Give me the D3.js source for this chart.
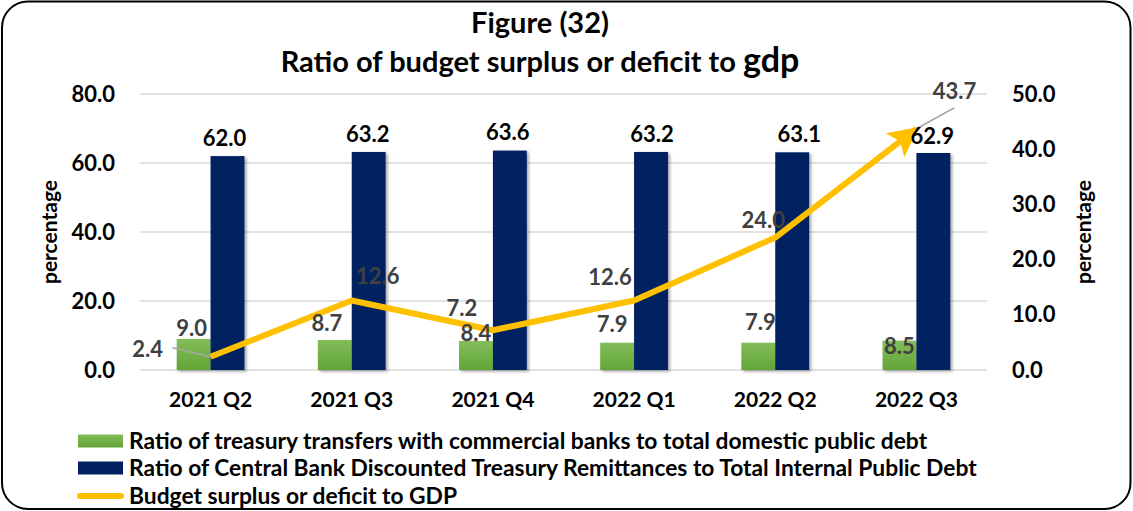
<!DOCTYPE html>
<html>
<head>
<meta charset="utf-8">
<script src="https://cdn.jsdelivr.net/npm/d3@7"></script>
<style>
  body { margin: 0; background: #fff; }
  svg { display: block; }
  text { font-family: Lato, "Open Sans", sans-serif; font-weight: 700; }
</style>
</head>
<body>
<svg id="chart" width="1133" height="511"></svg>
<script>
// ---- data ----
const categories = ["2021 Q2", "2021 Q3", "2021 Q4", "2022 Q1", "2022 Q2", "2022 Q3"];
const treasuryCommercial = [9.0, 8.7, 8.4, 7.9, 7.9, 8.5];
const centralBankDiscounted = [62.0, 63.2, 63.6, 63.2, 63.1, 62.9];
const budgetToGdp = [2.4, 12.6, 7.2, 12.6, 24.0, 43.7];
const leftTicks = [0, 20, 40, 60, 80];
const rightTicks = [0, 10, 20, 30, 40, 50];
const seriesNames = [
  "Ratio of treasury transfers with commercial banks to total domestic public debt",
  "Ratio of Central Bank Discounted Treasury Remittances to Total Internal Public Debt",
  "Budget surplus or deficit to GDP"
];

// label nudges [dx, dy] relative to each mark's anchor
const greenNudge = [[-2, -11], [-8, -17], [0, -8], [-5, -18], [2, -20], [0, 6]];
const navyNudge = [[-3, -18], [-1, -18], [-2, -18], [1, -18], [7, -18], [-1, -17]];
const lineNudge = [[-63, -7], [26, -24], [-31, -22], [-24, -23], [-12, -17], [38, -37]];

const svg = d3.select("#chart");
const W = 1133, H = 511;
const plot = { left: 140, right: 987, top: 94, bottom: 370 };
const labelSize = 22;

// frame
svg.append("rect")
  .attr("x", 2).attr("y", 1.5).attr("width", W - 4.5).attr("height", H - 3.5)
  .attr("rx", 26).attr("ry", 26)
  .attr("fill", "#fff").attr("stroke", "#000").attr("stroke-width", 2);

const defs = svg.append("defs");
const grad = defs.append("linearGradient").attr("id", "greenFill")
  .attr("x1", 0).attr("y1", 0).attr("x2", 0).attr("y2", 1);
grad.append("stop").attr("offset", "0%").attr("stop-color", "#82bd5a");
grad.append("stop").attr("offset", "100%").attr("stop-color", "#63a537");

const shadow = defs.append("filter").attr("id", "barShadow")
  .attr("x", "-30%").attr("y", "-10%").attr("width", "160%").attr("height", "130%");
shadow.append("feDropShadow").attr("dx", 2).attr("dy", 1.5)
  .attr("stdDeviation", 1.8).attr("flood-color", "#000").attr("flood-opacity", 0.35);

defs.append("marker").attr("id", "arrowHead")
  .attr("viewBox", "0 0 10 10").attr("refX", 9).attr("refY", 5)
  .attr("markerUnits", "userSpaceOnUse")
  .attr("markerWidth", 30).attr("markerHeight", 30)
  .attr("orient", "auto")
  .append("path").attr("d", "M0,0 L10,5 L0,10 L2.2,5 Z").attr("fill", "#ffc000");

// scales
const x = d3.scaleBand().domain(categories).range([plot.left, plot.right]).padding(0);
const yL = d3.scaleLinear().domain([0, 80]).range([plot.bottom, plot.top]);
const yR = d3.scaleLinear().domain([0, 50]).range([plot.bottom, plot.top]);
const barW = x.bandwidth() * 0.24;
const cx = c => x(c) + x.bandwidth() / 2;

// title
const title = svg.append("text").attr("text-anchor", "middle").attr("fill", "#000");
title.append("tspan").attr("x", 540).attr("y", 33).attr("font-size", 29).text("Figure (32)");
const t2 = title.append("tspan").attr("x", 540).attr("y", 72).attr("font-size", 29);
t2.append("tspan").text("Ratio of budget surplus or deficit to ");
t2.append("tspan").attr("font-size", 34).text("gdp");

// gridlines
svg.append("g").selectAll("line").data(leftTicks).join("line")
  .attr("x1", plot.left).attr("x2", plot.right)
  .attr("y1", d => yL(d)).attr("y2", d => yL(d))
  .attr("stroke", "#d9d9d9").attr("stroke-width", 1.5);

// axes
const axisL = svg.append("g").attr("transform", `translate(${plot.left - 22},0)`)
  .call(d3.axisLeft(yL).tickValues(leftTicks).tickFormat(d3.format(".1f")).tickSize(0));
const axisR = svg.append("g").attr("transform", `translate(${plot.right + 22},0)`)
  .call(d3.axisRight(yR).tickValues(rightTicks).tickFormat(d3.format(".1f")).tickSize(0));
const axisX = svg.append("g").attr("transform", `translate(0,${plot.bottom + 21})`)
  .call(d3.axisBottom(x).tickSize(0));
[axisL, axisR, axisX].forEach(a => {
  a.select(".domain").remove();
  a.selectAll("text").attr("font-size", labelSize).attr("fill", "#000")
    .attr("font-family", "Lato, 'Open Sans', sans-serif").attr("font-weight", 700);
});
axisX.selectAll("text").attr("font-size", 21).attr("dy", "0.75em").attr("y", 0);

// axis titles
svg.append("text").attr("transform", "translate(57,232) rotate(-90)")
  .attr("text-anchor", "middle").attr("font-size", 21).attr("fill", "#000").text("percentage");
svg.append("text").attr("transform", "translate(1091,232) rotate(-90)")
  .attr("text-anchor", "middle").attr("font-size", 21).attr("fill", "#000").text("percentage");

// bars
const bars = svg.append("g").attr("filter", "url(#barShadow)");
bars.selectAll("rect.green").data(categories).join("rect").attr("class", "green")
  .attr("x", c => cx(c) - barW).attr("width", barW)
  .attr("y", (c, i) => yL(treasuryCommercial[i]))
  .attr("height", (c, i) => yL(0) - yL(treasuryCommercial[i]))
  .attr("fill", "url(#greenFill)");
bars.selectAll("rect.navy").data(categories).join("rect").attr("class", "navy")
  .attr("x", c => cx(c)).attr("width", barW)
  .attr("y", (c, i) => yL(centralBankDiscounted[i]))
  .attr("height", (c, i) => yL(0) - yL(centralBankDiscounted[i]))
  .attr("fill", "#002060");

// line
const pts = categories.map((c, i) => [cx(c), yR(budgetToGdp[i])]);
svg.append("path").datum(pts)
  .attr("d", d3.line())
  .attr("fill", "none").attr("stroke", "#ffc000").attr("stroke-width", 6)
  .attr("stroke-linejoin", "round")
  .attr("marker-end", "url(#arrowHead)");

// leader lines for the detached line labels
[0, 5].forEach(i => {
  const [px, py] = pts[i];
  const [dx, dy] = lineNudge[i];
  const ex = i === 0 ? px + dx + 25 : px + dx;
  const ey = i === 0 ? py + dy - 2 : py + dy + 16;
  svg.append("line").attr("x1", ex).attr("y1", ey).attr("x2", px).attr("y2", py)
    .attr("stroke", "#a6a6a6").attr("stroke-width", 1.5);
});

// value labels
const lab = svg.append("g").attr("font-size", labelSize).attr("text-anchor", "middle");
lab.selectAll("text.g").data(categories).join("text").attr("class", "g")
  .attr("x", (c, i) => cx(c) - barW / 2 + greenNudge[i][0])
  .attr("y", (c, i) => yL(treasuryCommercial[i]) + greenNudge[i][1])
  .attr("dy", "0.35em").attr("fill", "#404040")
  .text((c, i) => treasuryCommercial[i].toFixed(1));
lab.selectAll("text.n").data(categories).join("text").attr("class", "n")
  .attr("x", (c, i) => cx(c) + barW / 2 + navyNudge[i][0])
  .attr("y", (c, i) => yL(centralBankDiscounted[i]) + navyNudge[i][1])
  .attr("dy", "0.35em").attr("fill", "#000")
  .text((c, i) => centralBankDiscounted[i].toFixed(1));
lab.selectAll("text.l").data(categories).join("text").attr("class", "l")
  .attr("x", (c, i) => pts[i][0] + lineNudge[i][0])
  .attr("y", (c, i) => pts[i][1] + lineNudge[i][1])
  .attr("dy", "0.35em").attr("fill", "#404040")
  .text((c, i) => budgetToGdp[i].toFixed(1));

// legend
const leg = svg.append("g");
const rows = [441, 468, 496];
leg.append("rect").attr("x", 78).attr("y", rows[0] - 6.5).attr("width", 45).attr("height", 13)
  .attr("fill", "url(#greenFill)");
leg.append("rect").attr("x", 78).attr("y", rows[1] - 6.5).attr("width", 45).attr("height", 13)
  .attr("fill", "#002060");
leg.append("line").attr("x1", 80).attr("x2", 121).attr("y1", rows[2]).attr("y2", rows[2])
  .attr("stroke", "#ffc000").attr("stroke-width", 6).attr("stroke-linecap", "round");
leg.selectAll("text").data(seriesNames).join("text")
  .attr("x", 129).attr("y", (d, i) => rows[i]).attr("dy", "0.35em")
  .attr("font-size", 22.8).attr("fill", "#000").text(d => d);
</script>
</body>
</html>
